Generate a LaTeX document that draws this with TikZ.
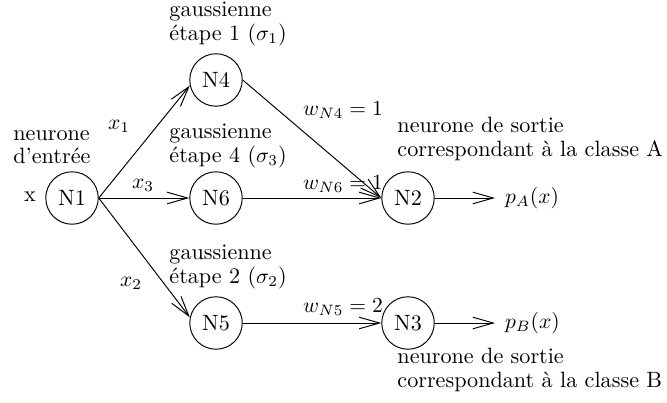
\documentclass[tikz,border=0pt]{standalone}
\usetikzlibrary{arrows.meta}
\begin{document}
\begin{tikzpicture}[x=0.465pt,y=-0.465pt,
  font=\fontsize{10.3}{11}\selectfont,
  neuron/.style={circle,draw,line width=0.45pt,minimum size=24.4pt,inner sep=0pt},
  lbl/.style={inner sep=0pt,align=left,anchor=west},
  arr/.style={line width=0.45pt,-{Straight Barb[length=9.5pt,width=5.4pt,line width=0.45pt]}}]
\useasboundingbox (0,0) rectangle (667,403);
\node[neuron] (N1) at (72,198) {N1};
\node[neuron] (N4) at (216,80) {N4};
\node[neuron] (N6) at (216,198) {N6};
\node[neuron] (N5) at (216,323) {N5};
\node[neuron] (N2) at (408,198) {N2};
\node[neuron] (N3) at (408,323) {N3};
\node[anchor=west,inner sep=4.5pt] (pA) at (495,198) {$p_A(x)$};
\node[anchor=west,inner sep=4.5pt] (pB) at (495,323) {$p_B(x)$};
\draw[arr] (N1.east) -- (N4.192);
\draw[arr] (N1.east) -- (N6);
\draw[arr] (N1.east) -- (N5.168);
\draw[arr] (N4.east) -- (N2.west);
\draw[arr] (N6) -- (N2);
\draw[arr] (N5) -- (N3);
\draw[arr] (N2) -- (pA);
\draw[arr] (N3) -- (pB);
\node (lx1) at (119,126) {$x_1$};
\node (lx3) at (143,185) {$x_3$};
\node (lx2) at (131,283) {$x_2$};
\node (lw4) at (343,110) {$w_{N4}=1$};
\node (lw6) at (343,184) {$w_{N6}=1$};
\node (lw5) at (343,307) {$w_{N5}=2$};
\node (lx) at (30,197) {x};
\node[lbl] (tin) at (13,147) {neurone\\d'entrée};
\node[lbl] (t1) at (169,24) {gaussienne\\étape 1 ($\sigma_1$)};
\node[lbl] (t4) at (169,146) {gaussienne\\étape 4 ($\sigma_3$)};
\node[lbl] (t2) at (169,267) {gaussienne\\étape 2 ($\sigma_2$)};
\node[lbl] (tA) at (397,139) {neurone de sortie\\correspondant à la classe A};
\node[lbl] (tB) at (397,370) {neurone de sortie\\correspondant à la classe B};
\end{tikzpicture}
\end{document}
